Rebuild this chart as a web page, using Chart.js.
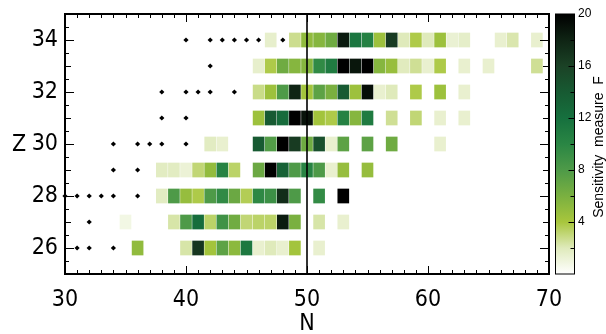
<!DOCTYPE html>
<html>
<head>
<meta charset="utf-8">
<script src="https://cdn.jsdelivr.net/npm/chart.js@4.4.0/dist/chart.umd.min.js"></script>
<style>
  html, body { margin: 0; padding: 0; background: #fff; }
  #wrap { width: 606px; height: 334px; }
</style>
</head>
<body>
<div id="wrap"><canvas id="heat" width="606" height="334"></canvas></div>
<script>
// axis ticks
const xTicks = [30, 40, 50, 60, 70];
const yTicks = [26, 28, 30, 32, 34];
const cbTicks = [4, 8, 12, 16, 20];

// cells per row: N positions and sensitivity F
const n34 = [47, 49, 50, 51, 52, 53, 54, 55, 56, 57, 58, 59, 60, 61, 62, 63, 66, 67, 69];
const f34 = [1.5, 2.7, 5, 5.5, 6.5, 18.5, 11.5, 10.5, 4.5, 16.5, 2, 3.8, 2, 4.5, 1.3, 1.6, 1.4, 2.2, 1.4];
const n33 = [46, 47, 48, 49, 50, 51, 52, 53, 54, 55, 56, 57, 58, 59, 60, 61, 63, 65, 69];
const f33 = [1.5, 3.8, 6.5, 5.5, 5.5, 9.6, 11, 20, 18.8, 20, 5.5, 4.7, 1.9, 2.6, 1.4, 3.8, 1.4, 1.4, 2.6];
const n32 = [46, 47, 48, 49, 50, 51, 52, 53, 54, 55, 56, 57, 59, 61, 63];
const f32 = [2.8, 4.5, 8, 18, 4.2, 7.3, 6, 14, 4.5, 19.3, 1.4, 2, 3.8, 4.5, 1.4];
const n31 = [46, 47, 48, 49, 50, 51, 52, 53, 54, 55, 57, 59, 61, 63];
const f31 = [4.5, 14, 12.5, 20, 19, 4.2, 3.8, 10.5, 5.5, 11, 2.6, 3.1, 1.4, 1.4];
const n30 = [42, 43, 46, 47, 48, 49, 50, 51, 52, 53, 55, 57, 61];
const f30 = [1.8, 1.4, 14, 7.8, 20, 16.5, 6.5, 14.8, 1.4, 7.3, 7.3, 6.5, 1.4];
const n29 = [38, 39, 40, 41, 42, 43, 44, 46, 47, 48, 49, 50, 51, 52, 53, 55];
const f29 = [1.8, 1.8, 1.2, 3.1, 4.9, 10.3, 3.3, 6.7, 20, 13.3, 8, 10.2, 8, 1.4, 4.8, 4.8];
const n28 = [38, 39, 40, 41, 42, 43, 44, 45, 46, 47, 48, 49, 51, 53];
const f28 = [1.8, 8, 4.8, 3.8, 8, 9.6, 6.7, 3.6, 9.8, 9, 17.5, 8, 9.5, 20];
const n27 = [35, 39, 40, 41, 42, 43, 44, 45, 46, 47, 48, 49, 51, 53];
const f27 = [0.8, 2.3, 8, 12.3, 3.3, 8.8, 6.4, 3.1, 3.3, 3.3, 18.5, 6, 2.3, 1.4];
const n26 = [36, 40, 41, 42, 43, 44, 45, 46, 47, 48, 49, 51];
const f26 = [5, 2.3, 16.8, 4.2, 7.3, 5.2, 11.3, 1.4, 2, 1.4, 4.2, 1.4];

// small diamond markers per row
const d34 = [40, 42, 43, 44, 45, 46, 48];
const d33 = [42];
const d32 = [38, 40, 41, 42, 44];
const d31 = [38, 40];
const d30 = [34, 36, 37, 38, 40];
const d29 = [34, 36];
const d28 = [30, 31, 32, 33, 34, 36];
const d27 = [32];
const d26 = [31, 32, 34];

const magicN = 50;

// colour table
const cmap = [
  [0, '#ffffff'], [2, '#dfeabb'], [4, '#a8c63c'], [6, '#7ab040'], [8, '#4e9a48'],
  [10, '#2a8644'], [12, '#16703e'], [14, '#175a32'], [16, '#1b4226'], [18, '#0f2414'], [20, '#000000']
];

function hexRgb(h) {
  return [parseInt(h.slice(1, 3), 16), parseInt(h.slice(3, 5), 16), parseInt(h.slice(5, 7), 16)];
}
function colorFor(v) {
  for (let i = 1; i < cmap.length; i++) {
    if (v <= cmap[i][0]) {
      const a = cmap[i - 1], b = cmap[i];
      const t = (v - a[0]) / (b[0] - a[0]);
      const c1 = hexRgb(a[1]), c2 = hexRgb(b[1]);
      const c = c1.map((x, k) => Math.round(x + (c2[k] - x) * t));
      return `rgb(${c[0]},${c[1]},${c[2]})`;
    }
  }
  return cmap[cmap.length - 1][1];
}

const rows = [
  [34, n34, f34, d34], [33, n33, f33, d33], [32, n32, f32, d32],
  [31, n31, f31, d31], [30, n30, f30, d30], [29, n29, f29, d29],
  [28, n28, f28, d28], [27, n27, f27, d27], [26, n26, f26, d26]
];

const cells = [], cellColors = [], dots = [];
rows.forEach(([z, ns, fs, ds]) => {
  ns.forEach((n, i) => {
    cells.push({ x: n, y: [z - 0.27, z + 0.27] });
    cellColors.push(colorFor(fs[i]));
  });
  ds.forEach(n => dots.push({ x: n, y: z }));
});

const narrow = "'Liberation Sans Narrow', 'DejaVu Sans Condensed', 'Liberation Sans', sans-serif";
Chart.defaults.font.family = narrow;
Chart.defaults.color = '#000';

// frame, inward ticks, colour bar
const framePlugin = {
  id: 'frame',
  afterDraw(chart) {
    const ctx = chart.ctx;
    const a = chart.chartArea;
    const xs = chart.scales.x, ys = chart.scales.y, cb = chart.scales.cb;
    ctx.save();
    ctx.strokeStyle = '#000';
    ctx.lineWidth = 1;
    ctx.beginPath();
    for (let n = 30; n <= 70; n++) {
      const px = Math.round(xs.getPixelForValue(n)) + 0.5;
      const len = n % 10 === 0 ? 8 : 4;
      ctx.moveTo(px, a.bottom); ctx.lineTo(px, a.bottom - len);
      ctx.moveTo(px, a.top); ctx.lineTo(px, a.top + len);
    }
    for (let z = 25; z <= 35; z += 0.5) {
      const py = Math.round(ys.getPixelForValue(z)) + 0.5;
      const len = z % 2 === 0 ? 9 : (z % 1 === 0 ? 6 : 4);
      ctx.moveTo(a.left, py); ctx.lineTo(a.left + len, py);
      ctx.moveTo(a.right, py); ctx.lineTo(a.right - len, py);
    }
    ctx.stroke();
    ctx.lineWidth = 2;
    ctx.strokeRect(a.left, a.top, a.right - a.left, a.bottom - a.top);

    // colour bar
    const bx = cb.left + 6.5, bw = 19;
    const y0 = cb.getPixelForValue(0), y1 = cb.getPixelForValue(20);
    const g = ctx.createLinearGradient(0, y0, 0, y1);
    cmap.forEach(([v, c]) => g.addColorStop(v / 20, c));
    ctx.fillStyle = g;
    ctx.fillRect(bx, y1, bw, y0 - y1);
    ctx.lineWidth = 1;
    ctx.strokeRect(bx, y1, bw, y0 - y1);
    ctx.beginPath();
    for (let v = 2; v < 20; v += 2) {
      const py = Math.round(cb.getPixelForValue(v)) + 0.5;
      const len = v % 4 === 0 ? 6 : 4;
      ctx.moveTo(bx + bw, py); ctx.lineTo(bx + bw - len, py);
    }
    ctx.stroke();

    // titles
    ctx.fillStyle = '#000';
    ctx.textAlign = 'center';
    ctx.textBaseline = 'middle';
    ctx.font = `23px ${narrow}`;
    ctx.fillText('Z', 19, (a.top + a.bottom) / 2 + 1);
    ctx.translate(599, (y0 + y1) / 2 + 3);
    ctx.rotate(-Math.PI / 2);
    ctx.font = "14px 'Liberation Sans', Arial, sans-serif";
    ctx.fillText('Sensitivity  measure  F', 0, 0);
    ctx.restore();
  }
};

function noPadV(s, w) { s.width = w; s.paddingTop = 0; s.paddingBottom = 0; }

new Chart(document.getElementById('heat'), {
  type: 'bar',
  data: {
    datasets: [
      {
        type: 'line',
        data: [{ x: magicN, y: 25 }, { x: magicN, y: 35 }],
        borderColor: '#000',
        borderWidth: 1.6,
        pointRadius: 0,
        order: 1
      },
      {
        type: 'scatter',
        data: dots,
        pointStyle: 'rectRot',
        pointRadius: 2.6,
        backgroundColor: '#000',
        borderWidth: 0,
        clip: false,
        order: 2
      },
      {
        type: 'bar',
        data: cells,
        backgroundColor: cellColors,
        barThickness: 11,
        borderWidth: 0,
        order: 3
      }
    ]
  },
  options: {
    responsive: false,
    animation: false,
    layout: { padding: { top: 14, right: 0, left: 0, bottom: 0 } },
    plugins: { legend: { display: false }, tooltip: { enabled: false } },
    scales: {
      x: {
        type: 'linear',
        min: 30,
        max: 70,
        offset: false,
        afterBuildTicks: s => { s.ticks = xTicks.map(v => ({ value: v })); },
        afterFit: s => { s.height = 60; s.paddingLeft = 0; s.paddingRight = 0; },
        grid: { display: false, offset: false },
        border: { display: false },
        ticks: { padding: 4, font: { size: 23 }, color: '#000' },
        title: { display: true, text: 'N', font: { size: 23 }, color: '#000', padding: { top: 0, bottom: -4 } }
      },
      y: {
        type: 'linear',
        min: 25,
        max: 35,
        afterBuildTicks: s => { s.ticks = yTicks.map(v => ({ value: v })); },
        afterFit: s => noPadV(s, 65),
        grid: { display: false, drawTicks: false },
        border: { display: false },
        ticks: { padding: 7, font: { size: 23 }, color: '#000' }
      },
      cb: {
        axis: 'y',
        type: 'linear',
        position: 'right',
        min: 0,
        max: 20,
        afterBuildTicks: s => { s.ticks = cbTicks.map(v => ({ value: v })); },
        afterFit: s => noPadV(s, 57),
        grid: { display: false, drawTicks: false },
        border: { display: false },
        ticks: { padding: 29, font: { size: 12, family: "'Liberation Sans', Arial, sans-serif" }, color: '#000' }
      }
    }
  },
  plugins: [framePlugin]
});
</script>
</body>
</html>
